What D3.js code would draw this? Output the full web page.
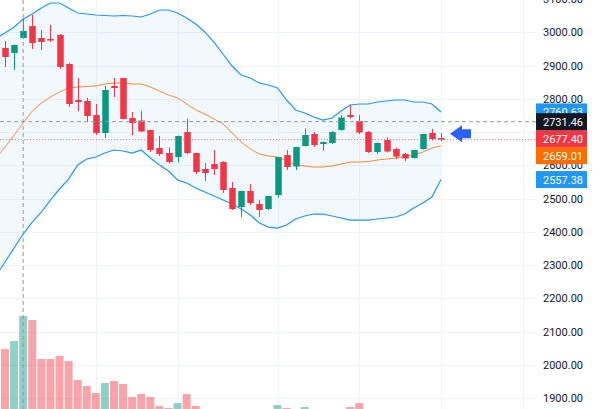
<!DOCTYPE html>
<html><head><meta charset="utf-8">
<script src="https://cdn.jsdelivr.net/npm/d3@7/dist/d3.min.js"></script>
<style>html,body{margin:0;padding:0;background:#fff;overflow:hidden}</style>
</head><body>
<svg id="c" width="606" height="409"></svg>
<script>
// ---- data ----
const open = [2952.8, 2937.8, 2982.9, 3018.9, 2982.9, 2979.9, 2991.9, 2904.7, 2796.5, 2793.5,
  2751.4, 2697.3, 2838.6, 2862.6, 2742.4, 2734.9, 2706.3, 2652.2, 2637.2, 2625.2,
  2700.3, 2637.2, 2589.1, 2604.1, 2610.1, 2532.0, 2474.9, 2523.0, 2483.9, 2468.8,
  2510.9, 2631.2, 2596.6, 2658.2, 2694.3, 2664.2, 2667.2, 2706.3, 2751.4, 2733.4,
  2700.3, 2640.2, 2676.3, 2649.2, 2634.2, 2622.2, 2649.2, 2697.3, 2682.3];
const high = [2973.9, 2963.0, 3040.0, 3052.0, 3006.9, 3021.9, 2994.9, 2907.7, 2862.6, 2802.5,
  2784.5, 2838.6, 2862.6, 2863.0, 2760.4, 2763.4, 2707.0, 2688.3, 2653.7, 2689.8,
  2739.4, 2638.0, 2607.1, 2646.2, 2613.1, 2550.0, 2523.0, 2544.0, 2495.9, 2508.0,
  2626.0, 2646.2, 2655.5, 2710.8, 2700.3, 2672.0, 2703.0, 2751.4, 2781.5, 2751.4,
  2703.3, 2668.0, 2683.8, 2653.7, 2637.2, 2646.5, 2694.5, 2709.3, 2697.3];
const low = [2895.7, 2886.7, 2981.0, 2949.8, 2946.8, 2970.8, 2889.7, 2775.5, 2763.4, 2730.4,
  2691.3, 2682.3, 2805.5, 2738.0, 2691.3, 2700.3, 2640.2, 2628.2, 2605.6, 2608.6,
  2634.2, 2574.1, 2553.0, 2571.1, 2516.9, 2465.8, 2444.8, 2480.9, 2444.8, 2465.8,
  2503.0, 2586.1, 2586.1, 2657.0, 2655.2, 2644.7, 2664.0, 2705.0, 2740.9, 2694.3,
  2637.2, 2634.2, 2638.7, 2619.1, 2613.1, 2620.6, 2647.7, 2674.8, 2673.3];
const close = [2925.8, 2961.8, 3003.9, 2967.8, 2970.8, 2975.4, 2895.7, 2784.5, 2790.5, 2748.4,
  2697.3, 2826.6, 2832.6, 2739.4, 2727.4, 2701.8, 2646.2, 2634.2, 2610.1, 2688.3,
  2637.2, 2580.1, 2577.1, 2589.1, 2526.0, 2468.8, 2523.0, 2486.9, 2465.8, 2507.9,
  2625.2, 2595.1, 2655.2, 2691.3, 2661.2, 2670.2, 2700.3, 2743.9, 2745.4, 2698.8,
  2640.2, 2667.2, 2641.7, 2626.7, 2620.6, 2646.2, 2694.3, 2679.3, 2677.40];
const volume = [66, 74, 99, 95, 56, 56, 59, 54, 35, 29,
  22, 32, 34, 31, 18, 21, 18, 9, 7, 12,
  21, 9, 4, 3, 5, 4, 3, 4, 3, 4,
  10, 7, 5, 8, 5, 4, 5, 5, 8, 12,
  5, 4, 5, 4, 3, 4, 5, 4, 3];
// Bollinger bands, first value belongs to the bar before the first visible candle
const bbUpper = [2982.9, 2997.9, 3015.9, 3040.0, 3055.0, 3073.0, 3088.0, 3088.0, 3073.0, 3058.0,
  3055.0, 3052.0, 3050.5, 3049.0, 3050.5, 3049.0, 3046.0, 3055.0, 3067.0, 3067.0,
  3058.0, 3043.0, 3025.0, 3001.0, 2970.8, 2934.8, 2898.7, 2871.6, 2862.6, 2847.6,
  2841.6, 2832.6, 2796.5, 2766.5, 2757.4, 2745.4, 2736.4, 2742.4, 2763.4, 2781.5,
  2784.5, 2784.5, 2790.5, 2793.5, 2796.5, 2796.5, 2790.5, 2790.5, 2784.5, 2760.63];
const bbMiddle = [2622.2, 2655.2, 2691.3, 2727.4, 2763.4, 2787.5, 2805.5, 2820.5, 2832.6, 2835.6,
  2837.1, 2838.6, 2844.6, 2847.6, 2847.6, 2844.6, 2844.6, 2835.6, 2823.6, 2811.5,
  2802.5, 2784.5, 2766.5, 2754.4, 2739.4, 2724.4, 2697.3, 2670.2, 2649.2, 2634.2,
  2628.2, 2625.2, 2613.1, 2601.1, 2598.1, 2595.1, 2595.1, 2598.1, 2604.1, 2610.1,
  2610.1, 2611.6, 2616.1, 2619.1, 2622.2, 2625.2, 2631.2, 2640.2, 2652.2, 2659.01];
const bbLower = [2267.4, 2309.5, 2351.6, 2393.7, 2429.8, 2459.8, 2495.9, 2529.0, 2559.0, 2601.1,
  2619.1, 2625.2, 2637.2, 2646.2, 2643.2, 2637.2, 2646.2, 2622.2, 2601.1, 2583.1,
  2556.0, 2547.0, 2532.0, 2519.9, 2507.9, 2495.9, 2483.9, 2468.8, 2450.8, 2426.8,
  2414.7, 2411.7, 2420.7, 2438.8, 2447.8, 2453.8, 2453.8, 2447.8, 2441.8, 2435.8,
  2435.8, 2435.8, 2438.8, 2441.8, 2444.8, 2453.8, 2471.9, 2486.9, 2504.9, 2557.38];
const priceTicks = [1900, 2000, 2100, 2200, 2300, 2400, 2500, 2600, 2700, 2800, 2900, 3000, 3100];
const timeGridBars = [10, 19, 30, 39, 48, 57];
const crosshairBar = 2;
const crosshairPrice = 2731.46;

// ---- layout ----
const W = 606, H = 409, plotRight = 536;
const up = "#089981", down = "#f23645", blue = "#2196f3", orange = "#ff6d00";
const svg = d3.select("#c");
const x = d3.scaleLinear().domain([0, 48]).range([5, 441]);
const y = d3.scaleLinear().domain([1900, 3000]).range([398.3, 32.3]);
const yVol = d3.scaleLinear().domain([0, 99]).range([415, 316]);
const bars = open.map((o, i) => ({i, o, h: high[i], l: low[i], c: close[i], v: volume[i]}));
const bb = bbUpper.map((u, k) => ({i: k - 1, u, m: bbMiddle[k], lo: bbLower[k]}));

svg.append("defs").append("clipPath").attr("id", "plot")
  .append("rect").attr("x", 0).attr("y", 0).attr("width", plotRight).attr("height", H);
const g = svg.append("g").attr("clip-path", "url(#plot)");

// grid
g.selectAll("line.hg").data(priceTicks).join("line")
  .attr("x1", 0).attr("x2", plotRight)
  .attr("y1", d => Math.round(y(d)) + 0.5).attr("y2", d => Math.round(y(d)) + 0.5)
  .attr("stroke", "#f0f3fa").attr("stroke-width", 1);
g.selectAll("line.vg").data(timeGridBars).join("line")
  .attr("x1", d => Math.round(x(d)) + 0.5).attr("x2", d => Math.round(x(d)) + 0.5)
  .attr("y1", 0).attr("y2", H)
  .attr("stroke", "#f0f3fa").attr("stroke-width", 1);

// band fill
g.append("path").datum(bb)
  .attr("d", d3.area().x(d => x(d.i)).y0(d => y(d.lo)).y1(d => y(d.u)))
  .attr("fill", "rgba(33,150,243,0.06)");

// volume
const bw = 8;
g.selectAll("rect.vol").data(bars).join("rect")
  .attr("x", d => x(d.i) - bw / 2).attr("width", bw)
  .attr("y", d => yVol(d.v)).attr("height", d => yVol(0) - yVol(d.v))
  .attr("fill", d => d.c >= d.o ? "rgba(8,153,129,0.45)" : "rgba(242,54,69,0.45)");

// band lines
const line = key => d3.line().x(d => x(d.i)).y(d => y(d[key]));
g.append("path").datum(bb).attr("d", line("u")).attr("fill", "none").attr("stroke", blue).attr("stroke-width", 1.2);
g.append("path").datum(bb).attr("d", line("lo")).attr("fill", "none").attr("stroke", blue).attr("stroke-width", 1.2);
g.append("path").datum(bb).attr("d", line("m")).attr("fill", "none").attr("stroke", orange).attr("stroke-width", 1).attr("opacity", 0.8);

// candles
const cw = 6.5;
const cg = g.selectAll("g.c").data(bars).join("g");
cg.append("line")
  .attr("x1", d => Math.round(x(d.i)) + 0.5).attr("x2", d => Math.round(x(d.i)) + 0.5)
  .attr("y1", d => y(d.h)).attr("y2", d => y(d.l))
  .attr("stroke", d => d.c >= d.o ? up : down).attr("stroke-width", 1);
cg.append("rect")
  .attr("x", d => Math.round(x(d.i)) + 0.5 - cw / 2).attr("width", cw)
  .attr("y", d => y(Math.max(d.o, d.c)))
  .attr("height", d => Math.max(1.5, Math.abs(y(d.o) - y(d.c))))
  .attr("fill", d => d.c >= d.o ? up : down);

// last price line
const last = close[close.length - 1];
g.append("line").attr("x1", 0).attr("x2", plotRight)
  .attr("y1", y(last)).attr("y2", y(last))
  .attr("stroke", down).attr("stroke-width", 1).attr("stroke-dasharray", "1,2").attr("opacity", 0.7);

// crosshair
g.append("line").attr("x1", x(crosshairBar)).attr("x2", x(crosshairBar)).attr("y1", 0).attr("y2", H)
  .attr("stroke", "#9598a1").attr("stroke-width", 1).attr("stroke-dasharray", "4,3");
g.append("line").attr("x1", 0).attr("x2", plotRight).attr("y1", y(crosshairPrice)).attr("y2", y(crosshairPrice))
  .attr("stroke", "#9598a1").attr("stroke-width", 1).attr("stroke-dasharray", "4,3");

// arrow pointing at last candle
const ax = x(48) + 9, ay = y(last) - 6;
svg.append("path")
  .attr("d", `M${ax},${ay} L${ax + 12},${ay - 8.5} L${ax + 12},${ay - 4.5} L${ax + 21},${ay - 4.5} L${ax + 21},${ay + 4.5} L${ax + 12},${ay + 4.5} L${ax + 12},${ay + 8.5} Z`)
  .attr("fill", "#2962ff");

// price axis labels
const font = "Roboto, 'Noto Sans', sans-serif";
svg.selectAll("text.tk").data(priceTicks).join("text")
  .attr("x", 543).attr("y", d => y(d)).attr("dy", "0.36em")
  .attr("font-family", font).attr("font-size", 11).attr("fill", "#131722")
  .text(d => d3.format(".2f")(d));

// value labels
const bh = 17;
const labels = [
  {v: bbUpper[bbUpper.length - 1], bg: blue, top: y(bbUpper[bbUpper.length - 1]) - bh / 2},
  {v: bbLower[bbLower.length - 1], bg: blue, top: y(bbLower[bbLower.length - 1]) - bh / 2},
  {v: bbMiddle[bbMiddle.length - 1], bg: orange, top: y(crosshairPrice) + bh * 1.5},
  {v: last, bg: down, top: y(crosshairPrice) + bh / 2},
  {v: crosshairPrice, bg: "#131722", top: y(crosshairPrice) - bh / 2}
];
const lg = svg.selectAll("g.lb").data(labels).join("g");
lg.append("rect").attr("x", 536).attr("width", 51).attr("y", d => d.top).attr("height", bh).attr("fill", d => d.bg);
lg.append("text").attr("x", 543).attr("y", d => d.top + bh / 2).attr("dy", "0.36em")
  .attr("font-family", font).attr("font-size", 11).attr("fill", "#fff")
  .text(d => d3.format(".2f")(d.v));
</script>
</body></html>
